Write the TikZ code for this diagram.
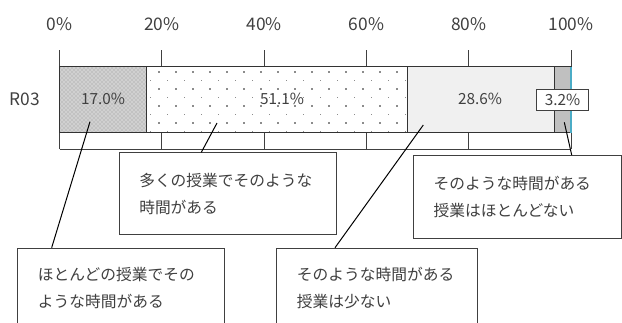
\documentclass[tikz,border=0pt]{standalone}
\usepackage{fontspec}
\setmainfont{Noto Sans CJK JP}
\usetikzlibrary{patterns}
\definecolor{txt}{HTML}{404040}
\definecolor{seg3}{HTML}{F0F0F0}
\definecolor{seg4}{HTML}{C0C0C0}
\definecolor{edgeblue}{HTML}{4BACC6}
\begin{document}
\begin{tikzpicture}[x=0.75pt,y=-0.75pt,
  segline/.style={draw=black!80, line width=0.9pt},
  tickline/.style={draw=black!75, line width=0.75pt},
  ticklbl/.style={font=\fontsize{13}{15}\selectfont, text=txt, inner sep=0},
  pct/.style={font=\fontsize{11.5}{14}\selectfont, text=txt, inner sep=0},
  callout/.style={draw=black!75, line width=0.75pt, fill=white, anchor=north west, inner sep=0},
  cltext/.style={align=left, inner sep=0, anchor=west, font=\fontsize{11.8}{20.25}\selectfont, text=txt},
  leader/.style={draw=black, line width=0.75pt}]
\useasboundingbox (0,0) rectangle (622,322);
% ticks and axis frame
\foreach \x in {59.5,161.8,264.1,366.4,468.7,571}{
  \draw[tickline] (\x,50) -- (\x,149);
}
\draw[tickline] (59.5,149) -- (571,149);
% tick labels
\node[ticklbl] (t0) at (59.5,24) {0\%};
\node[ticklbl] (t20) at (161.8,24) {20\%};
\node[ticklbl] (t40) at (264.1,24) {40\%};
\node[ticklbl] (t60) at (366.4,24) {60\%};
\node[ticklbl] (t80) at (468.7,24) {80\%};
\node[ticklbl] (t100) at (571,24) {100\%};
\node[ticklbl] (cat) at (25,99) {R03};
% segment 1: checkered
\fill[black!24] (59.5,66.7) rectangle (146.5,132.7);
\fill[pattern=crosshatch dots, pattern color=white] (59.5,66.7) rectangle (146.5,132.7);
\draw[segline] (59.5,66.7) rectangle (146.5,132.7);
% segment 2: dotted
\fill[white] (146.5,66.7) rectangle (407.8,132.7);
\foreach \yy in {72,89,106,123}{
  \foreach \xx in {159,176,...,400}{
    \fill[black!45] (\xx-0.9,\yy-0.9) rectangle (\xx+0.9,\yy+0.9);
  }
}
\foreach \yy in {80.5,97.5,114.5,131.5}{
  \foreach \xx in {150.5,167.5,...,406}{
    \fill[black!45] (\xx-0.9,\yy-0.9) rectangle (\xx+0.9,\yy+0.9);
  }
}
\draw[segline] (146.5,66.7) rectangle (407.8,132.7);
% segment 3
\fill[seg3] (407.8,66.7) rectangle (554.1,132.7);
\draw[segline] (407.8,66.7) rectangle (554.1,132.7);
% segment 4
\fill[seg4] (554.1,66.7) rectangle (571,132.7);
\draw[segline] (554.1,66.7) rectangle (571,132.7);
\draw[edgeblue, line width=0.8pt] (571,66.7) -- (571,132.7);
% value labels
\node[pct] (v1) at (103,99) {17.0\%};
\node[pct] (v2) at (282,99) {51.1\%};
\node[pct] (v3) at (480,99) {28.6\%};
\node[pct, draw=black!75, line width=0.75pt, fill=white, minimum width=38.7pt, minimum height=15.5pt] (v4) at (562.5,99.7) {3.2\%};
% callout boxes
\node[callout, minimum width=162.75pt, minimum height=61.5pt] (bA) at (119,152.3) {};
\node[cltext] (tA) at ([xshift=15pt]bA.west) {多くの授業でそのような\\時間がある};
\node[callout, minimum width=156.2pt, minimum height=62pt] (bB) at (412.7,155) {};
\node[cltext] (tB) at ([xshift=15.5pt]bB.west) {そのような時間がある\\授業はほとんどない};
\node[callout, minimum width=155.2pt, minimum height=60pt] (bC) at (17,247.7) {};
\node[cltext] (tC) at ([xshift=15.5pt]bC.west) {ほとんどの授業でその\\ような時間がある};
\node[callout, minimum width=150.75pt, minimum height=60pt] (bD) at (276,247.7) {};
\node[cltext] (tD) at ([xshift=15.5pt]bD.west) {そのような時間がある\\授業は少ない};
% leader anchors
\coordinate (p1) at (90,121.7);
\coordinate (p2) at (217,123);
\coordinate (p3) at (423.3,125);
\coordinate (p4) at (564.3,122.3);
\draw[leader] (p1) -- ([xshift=26pt]bC.north west);
\draw[leader] (p2) -- ([xshift=61.75pt]bA.north west);
\draw[leader] (p3) -- ([xshift=44.25pt]bD.north west);
\draw[leader] (p4) -- ([xshift=119.25pt]bB.north west);
\end{tikzpicture}
\end{document}
